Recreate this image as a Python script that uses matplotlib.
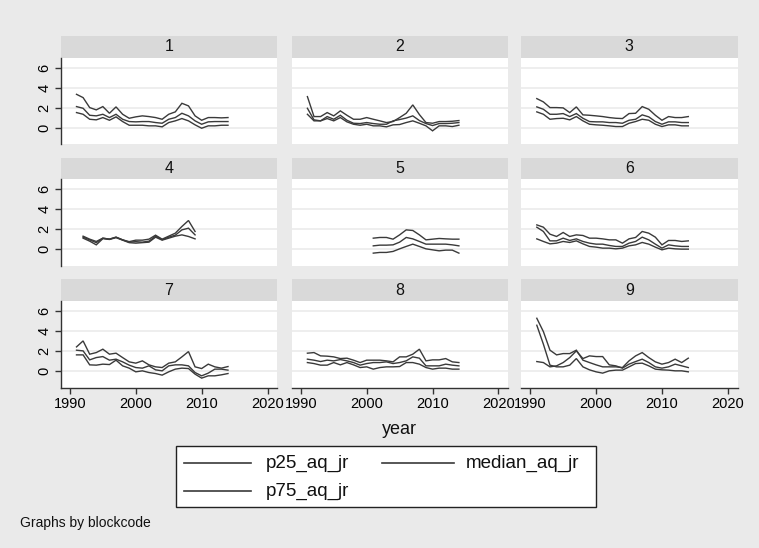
"""
Stata-style by(blockcode) line chart: p25 / median / p75 of aq_jr by year
"""
import matplotlib
matplotlib.use("Agg")
import matplotlib.pyplot as plt
from matplotlib.patches import Rectangle
from matplotlib.lines import Line2D

plt.rcParams["font.family"] = ["Liberation Sans", "DejaVu Sans"]

# ---- data ----
YEARS = list(range(1991, 2015))
YEARS_4 = list(range(1992, 2010))
YEARS_5 = list(range(2001, 2015))

p25_1 = [1.5, 1.33, 0.83, 0.77, 1.0, 0.73, 1.07, 0.6, 0.23, 0.23, 0.23, 0.17, 0.17, 0.07, 0.5, 0.67, 0.9, 0.67, 0.27, -0.07, 0.17, 0.17, 0.23, 0.23]
med_1 = [2.1, 1.93, 1.23, 1.17, 1.33, 1.0, 1.33, 0.83, 0.6, 0.57, 0.6, 0.6, 0.5, 0.43, 0.83, 1.0, 1.43, 1.17, 0.67, 0.33, 0.57, 0.6, 0.6, 0.6]
p75_1 = [3.33, 3.0, 2.0, 1.77, 2.1, 1.43, 2.07, 1.33, 0.93, 1.07, 1.17, 1.1, 1.0, 0.83, 1.33, 1.57, 2.43, 2.17, 1.17, 0.73, 1.0, 1.0, 0.97, 1.0]

p25_2 = [1.33, 0.67, 0.67, 0.9, 0.67, 1.0, 0.57, 0.33, 0.23, 0.33, 0.17, 0.17, 0.07, 0.27, 0.3, 0.5, 0.67, 0.43, 0.17, -0.33, 0.17, 0.17, 0.1, 0.23]
med_2 = [1.93, 0.77, 0.67, 1.1, 0.83, 1.23, 0.73, 0.43, 0.4, 0.5, 0.4, 0.33, 0.33, 0.67, 0.8, 0.95, 1.17, 0.7, 0.4, 0.2, 0.4, 0.4, 0.43, 0.5]
p75_2 = [3.1, 1.1, 1.1, 1.5, 1.17, 1.67, 1.23, 0.83, 0.83, 1.0, 0.83, 0.67, 0.5, 0.6, 1.0, 1.43, 2.27, 1.3, 0.5, 0.43, 0.6, 0.6, 0.63, 0.7]

p25_3 = [1.57, 1.33, 0.83, 0.9, 0.93, 0.77, 1.1, 0.67, 0.33, 0.27, 0.23, 0.17, 0.1, 0.1, 0.43, 0.6, 0.83, 0.73, 0.33, 0.1, 0.27, 0.27, 0.17, 0.17]
med_3 = [2.07, 1.83, 1.33, 1.33, 1.4, 1.1, 1.4, 0.93, 0.6, 0.57, 0.57, 0.5, 0.5, 0.43, 0.73, 0.83, 1.27, 1.07, 0.6, 0.33, 0.57, 0.57, 0.5, 0.5]
p75_3 = [2.9, 2.57, 2.0, 2.0, 1.97, 1.5, 2.07, 1.27, 1.23, 1.17, 1.1, 1.0, 0.93, 0.9, 1.4, 1.43, 2.1, 1.83, 1.23, 0.73, 1.1, 1.0, 1.0, 1.1]

p25_4 = [1.1, 0.8, 0.43, 1.05, 0.97, 1.15, 0.9, 0.65, 0.6, 0.65, 0.7, 1.2, 0.9, 1.1, 1.3, 1.43, 1.27, 1.03]
med_4 = [1.2, 0.93, 0.65, 1.1, 1.0, 1.2, 0.93, 0.7, 0.75, 0.7, 0.8, 1.3, 0.95, 1.2, 1.4, 1.93, 2.1, 1.43]
p75_4 = [1.3, 1.0, 0.77, 1.1, 1.0, 1.2, 0.93, 0.75, 0.9, 0.9, 1.0, 1.4, 1.0, 1.3, 1.6, 2.27, 2.87, 1.77]

p25_5 = [-0.4, -0.33, -0.33, -0.23, 0.03, 0.27, 0.5, 0.27, 0.03, -0.07, -0.17, -0.1, -0.1, -0.4]
med_5 = [0.33, 0.4, 0.4, 0.43, 0.7, 1.17, 1.03, 0.77, 0.5, 0.5, 0.5, 0.5, 0.43, 0.33]
p75_5 = [1.1, 1.17, 1.17, 1.0, 1.43, 1.93, 1.87, 1.43, 0.93, 1.0, 1.07, 1.03, 1.0, 1.0]

p25_6 = [1.03, 0.77, 0.53, 0.6, 0.77, 0.67, 0.83, 0.53, 0.27, 0.2, 0.1, 0.1, 0.03, 0.1, 0.33, 0.43, 0.67, 0.5, 0.2, -0.07, 0.1, 0.03, 0.0, 0.0]
med_6 = [2.2, 1.77, 0.83, 0.83, 1.1, 0.87, 1.03, 0.77, 0.6, 0.5, 0.5, 0.37, 0.27, 0.27, 0.6, 0.77, 1.2, 0.93, 0.5, 0.1, 0.43, 0.33, 0.27, 0.27]
p75_6 = [2.43, 2.2, 1.5, 1.27, 1.67, 1.27, 1.43, 1.37, 1.1, 1.1, 1.03, 0.93, 0.93, 0.6, 1.03, 1.17, 1.77, 1.6, 1.2, 0.43, 0.87, 0.87, 0.77, 0.83]

p25_7 = [1.6, 1.6, 0.6, 0.57, 0.67, 0.63, 1.07, 0.5, 0.27, -0.1, 0.0, -0.17, -0.27, -0.43, -0.1, 0.17, 0.27, 0.23, -0.33, -0.73, -0.5, -0.5, -0.4, -0.27]
med_7 = [2.07, 2.0, 1.1, 1.33, 1.43, 1.07, 1.17, 0.9, 0.57, 0.33, 0.27, 0.5, 0.1, 0.0, 0.5, 0.6, 0.6, 0.5, -0.17, -0.5, -0.23, 0.17, 0.17, 0.07]
p75_7 = [2.4, 3.0, 1.67, 1.83, 2.17, 1.67, 1.77, 1.33, 0.9, 0.77, 1.0, 0.6, 0.4, 0.33, 0.77, 0.9, 1.4, 1.93, 0.4, 0.23, 0.67, 0.4, 0.27, 0.43]

p25_8 = [0.83, 0.73, 0.57, 0.57, 0.83, 0.6, 0.83, 0.6, 0.33, 0.4, 0.17, 0.33, 0.4, 0.4, 0.43, 0.83, 0.83, 0.67, 0.33, 0.17, 0.27, 0.27, 0.17, 0.17]
med_8 = [1.17, 1.07, 0.93, 1.07, 1.0, 1.13, 1.0, 0.83, 0.57, 0.73, 0.83, 0.83, 0.9, 0.73, 0.83, 1.0, 1.4, 1.27, 0.5, 0.5, 0.5, 0.67, 0.57, 0.5]
p75_8 = [1.77, 1.83, 1.5, 1.47, 1.4, 1.23, 1.27, 1.07, 0.83, 1.07, 1.07, 1.07, 1.0, 0.9, 1.4, 1.4, 1.67, 2.17, 1.0, 1.1, 1.1, 1.23, 0.9, 0.83]

p25_9 = [0.93, 0.83, 0.4, 0.5, 0.83, 1.33, 2.0, 1.23, 1.5, 1.43, 1.43, 0.6, 0.5, 0.27, 0.67, 0.93, 1.17, 0.83, 0.4, 0.27, 0.4, 0.67, 0.5, 0.33]
med_9 = [4.57, 2.67, 0.57, 0.4, 0.4, 0.57, 1.23, 0.4, 0.1, -0.1, -0.23, 0.0, 0.07, 0.07, 0.4, 0.73, 0.77, 0.5, 0.17, 0.1, 0.07, 0.0, 0.0, -0.1]
p75_9 = [5.27, 3.93, 2.07, 1.6, 1.73, 1.73, 2.07, 1.07, 0.83, 0.6, 0.4, 0.4, 0.4, 0.33, 1.0, 1.5, 1.83, 1.33, 0.9, 0.67, 0.83, 1.17, 0.83, 1.27]

PANELS = [
    ("1", YEARS, p25_1, med_1, p75_1),
    ("2", YEARS, p25_2, med_2, p75_2),
    ("3", YEARS, p25_3, med_3, p75_3),
    ("4", YEARS_4, p25_4, med_4, p75_4),
    ("5", YEARS_5, p25_5, med_5, p75_5),
    ("6", YEARS, p25_6, med_6, p75_6),
    ("7", YEARS, p25_7, med_7, p75_7),
    ("8", YEARS, p25_8, med_8, p75_8),
    ("9", YEARS, p25_9, med_9, p75_9),
]
SERIES_NAMES = ["p25_aq_jr", "median_aq_jr", "p75_aq_jr"]
X_TICKS = [1990, 2000, 2010, 2020]
Y_TICKS = [0, 2, 4, 6]

# ---- style ----
BG = "#EAEAEA"
STRIP = "#D9D9D9"
GRID = "#EBEBEB"
LINE = "#3a3a3a"
AXIS = "#333333"

W, H = 759, 548
fig = plt.figure(figsize=(W / 100, H / 100), dpi=100)
fig.patch.set_facecolor(BG)

col_left = [60.7, 291.6, 521.0]
row_top = [57.7, 179.3, 301.0]
panel_w = 216.7
panel_h = 86.5
strip_h = 21.7

for i, (label, yrs, p25, med, p75) in enumerate(PANELS):
    r, c = divmod(i, 3)
    rect = [col_left[c] / W, 1 - (row_top[r] + panel_h) / H, panel_w / W, panel_h / H]
    ax = fig.add_axes(rect)
    ax.set_facecolor("white")
    for s in (p25, med, p75):
        ax.plot(yrs, s, color=LINE, lw=1.0, solid_joinstyle="miter")
    ax.set_xlim(1988.6, 2021.5)
    ax.set_ylim(-1.67, 7.0)
    ax.set_yticks(Y_TICKS)
    ax.set_xticks(X_TICKS)
    ax.grid(axis="y", color=GRID, lw=1.2)
    ax.set_axisbelow(True)
    for sp in ax.spines.values():
        sp.set_visible(False)
    ax.tick_params(axis="both", direction="out", length=4.5, width=1,
                   color=AXIS, labelsize=10.5, pad=2)
    if c == 0:
        ax.spines["left"].set_visible(True)
        ax.spines["left"].set_color(AXIS)
        ax.spines["left"].set_linewidth(1)
        for t in ax.get_yticklabels():
            t.set_rotation(90)
            t.set_va("center")
    else:
        ax.tick_params(axis="y", length=0, labelleft=False)
    if r == 2:
        ax.spines["bottom"].set_visible(True)
        ax.spines["bottom"].set_color(AXIS)
        ax.spines["bottom"].set_linewidth(1)
    else:
        ax.tick_params(axis="x", length=0, labelbottom=False)

    # strip with panel label
    sh = strip_h / panel_h
    ax.add_patch(Rectangle((0, 1), 1, sh, transform=ax.transAxes,
                           facecolor=STRIP, edgecolor="none", clip_on=False))
    ax.text(0.5, 1 + sh / 2, label, transform=ax.transAxes,
            ha="center", va="center", fontsize=11.5, color="#111111")

fig.text(399 / W, 1 - 430 / H, "year", ha="center", va="center",
         fontsize=13, color="#111111")

# legend box
lx0, lx1, ly0, ly1 = 175.7, 595.7, 445.7, 507.3
fig.patches.append(Rectangle((lx0 / W, 1 - ly1 / H), (lx1 - lx0) / W, (ly1 - ly0) / H,
                             transform=fig.transFigure, facecolor="white",
                             edgecolor="#222222", lw=1))
entries = [(184, 250.7, 266, 463.3), (382, 454, 466, 463.3), (184, 250.7, 266, 491)]
for name, (x0, x1, tx, y) in zip(SERIES_NAMES, entries):
    fig.lines.append(Line2D([x0 / W, x1 / W], [1 - y / H, 1 - y / H],
                            transform=fig.transFigure, color=LINE, lw=1.2))
    fig.text(tx / W, 1 - y / H, name, ha="left", va="center",
             fontsize=13.5, color="#111111")

fig.text(20 / W, 1 - 523 / H, "Graphs by blockcode", ha="left", va="center",
         fontsize=10, color="#111111")

fig.savefig("out.png", dpi=100, facecolor=fig.get_facecolor())
